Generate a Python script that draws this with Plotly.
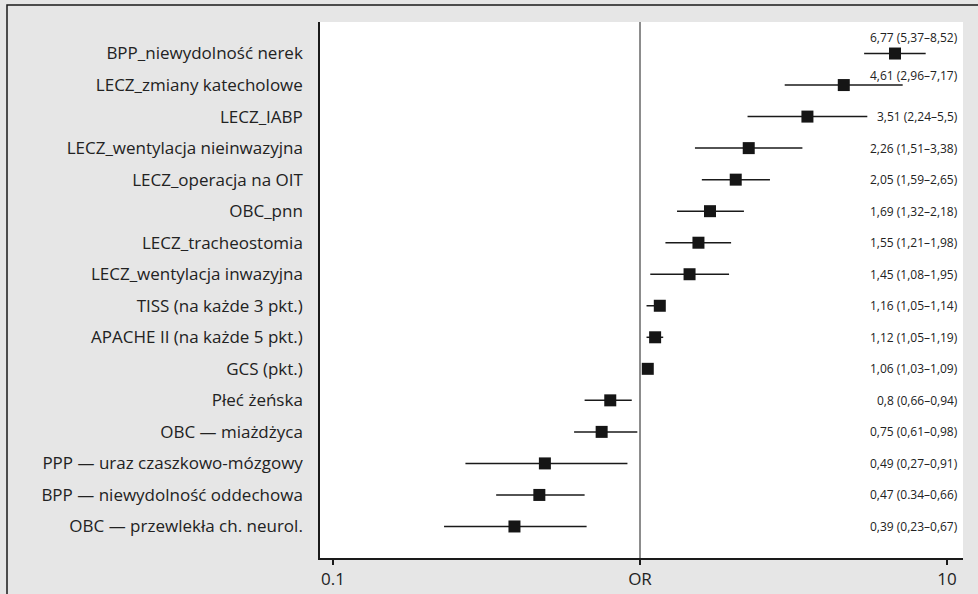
import plotly.graph_objects as go

labels = [
    "BPP_niewydolność nerek",
    "LECZ_zmiany katecholowe",
    "LECZ_IABP",
    "LECZ_wentylacja nieinwazyjna",
    "LECZ_operacja na OIT",
    "OBC_pnn",
    "LECZ_tracheostomia",
    "LECZ_wentylacja inwazyjna",
    "TISS (na każde 3 pkt.)",
    "APACHE II (na każde 5 pkt.)",
    "GCS (pkt.)",
    "Płeć żeńska",
    "OBC — miażdżyca",
    "PPP — uraz czaszkowo-mózgowy",
    "BPP — niewydolność oddechowa",
    "OBC — przewlekła ch. neurol.",
]
odds = [6.77, 4.61, 3.51, 2.26, 2.05, 1.69, 1.55, 1.45, 1.16, 1.12, 1.06, 0.8, 0.75, 0.49, 0.47, 0.39]
ci_low = [5.37, 2.96, 2.24, 1.51, 1.59, 1.32, 1.21, 1.08, 1.05, 1.05, 1.03, 0.66, 0.61, 0.27, 0.34, 0.23]
ci_high = [8.52, 7.17, 5.5, 3.38, 2.65, 2.18, 1.98, 1.95, 1.14, 1.19, 1.09, 0.94, 0.98, 0.91, 0.66, 0.67]
value_text = [
    "6,77 (5,37–8,52)", "4,61 (2,96–7,17)", "3,51 (2,24–5,5)", "2,26 (1,51–3,38)",
    "2,05 (1,59–2,65)", "1,69 (1,32–2,18)", "1,55 (1,21–1,98)", "1,45 (1,08–1,95)",
    "1,16 (1,05–1,14)", "1,12 (1,05–1,19)", "1,06 (1,03–1,09)", "0,8 (0,66–0,94)",
    "0,75 (0,61–0,98)", "0,49 (0,27–0,91)", "0,47 (0.34–0,66)", "0,39 (0,23–0,67)",
]
text_shift = [16, 10, 0, 0, 0, 0, 0, 0, 0, 0, 0, 0, 0, 0, 0, 0]
x_ticks = [0.1, 1, 10]
x_ticktext = ["0.1", "OR", "10"]

W, H = 978, 594
ML, MR, MT, MB = 320, 15, 22, 36
PW, PH = W - ML - MR, H - MT - MB

rows = list(range(len(labels)))
fig = go.Figure()

# whiskers
for i in rows:
    fig.add_trace(go.Scatter(
        x=[ci_low[i], ci_high[i]], y=[i, i], mode="lines",
        line=dict(color="#1a1a1a", width=1.5), showlegend=False, hoverinfo="skip"))

fig.add_trace(go.Scatter(
    x=odds, y=rows, mode="markers",
    marker=dict(symbol="square", size=12, color="#151515", line=dict(width=0)),
    showlegend=False))

for i in rows:
    fig.add_annotation(x=(959 - ML) / PW, xref="paper", y=i, yref="y",
                       text=value_text[i], showarrow=False, xanchor="right",
                       yanchor="middle", yshift=text_shift[i], borderpad=0,
                       font=dict(family="Open Sans", size=12, color="#222"))

# reference line at OR = 1
fig.add_shape(type="line", x0=1, x1=1, xref="x", y0=0, y1=1, yref="paper",
              line=dict(color="#1a1a1a", width=1))

# outer frame
def px_x(p):
    return (p - ML) / PW
def px_y(p):
    return 1 - (p - MT) / PH
fig.add_shape(type="rect", xref="paper", yref="paper",
              x0=px_x(7), x1=px_x(990), y0=px_y(5), y1=px_y(605),
              line=dict(color="#1a1a1a", width=1.5), fillcolor="rgba(0,0,0,0)", layer="above")

fig.update_layout(
    width=W, height=H,
    margin=dict(l=ML, r=MR, t=MT, b=MB, pad=0, autoexpand=False),
    paper_bgcolor="#e6e6e6", plot_bgcolor="#ffffff",
    font=dict(family="Open Sans", color="#222"),
    xaxis=dict(type="log", range=[-1.0423, 1.052], tickvals=x_ticks, ticktext=x_ticktext,
               showgrid=False, zeroline=False, showline=True, linecolor="#1a1a1a", linewidth=1.5,
               ticks="outside", ticklen=5, tickcolor="#1a1a1a", tickwidth=1.5, automargin=False,
               tickfont=dict(family="Open Sans", size=17, color="#222")),
    yaxis=dict(range=[16, -1], tickvals=rows, ticktext=labels, showgrid=False, zeroline=False,
               showline=True, linecolor="#1a1a1a", linewidth=1.5, ticks="", automargin=False,
               ticklabelstandoff=12,
               tickfont=dict(family="Open Sans", size=17, color="#222")),
)

fig.write_html("out.html", config={"displayModeBar": False},
               post_script="document.body.style.margin='0';")
